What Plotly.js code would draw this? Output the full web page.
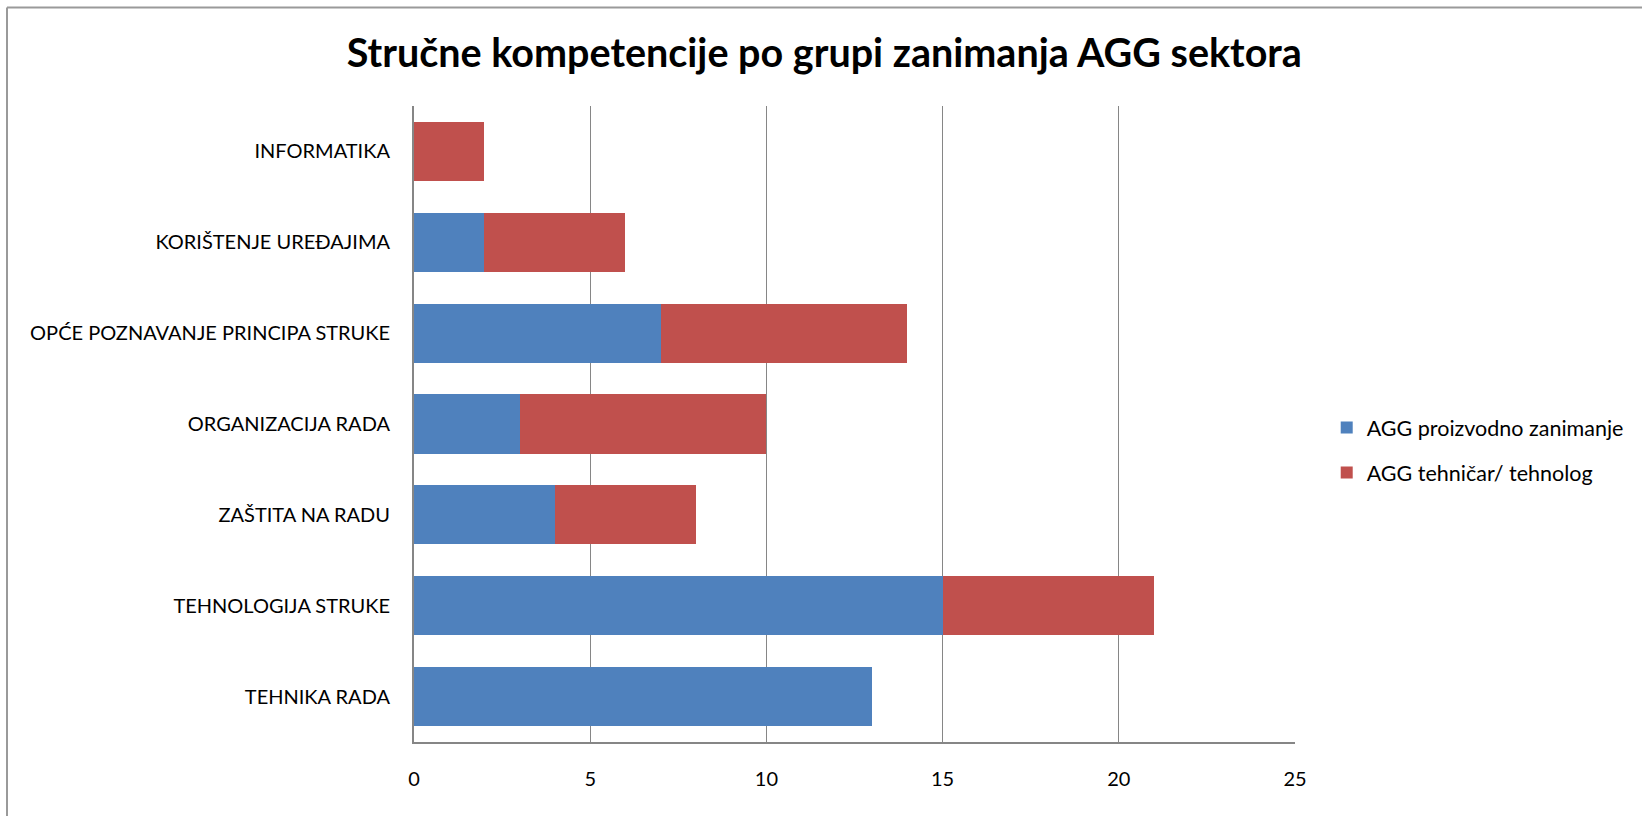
<!DOCTYPE html>
<html>
<head>
<meta charset="utf-8">
<script src="https://cdn.plot.ly/plotly-3.0.1.min.js"></script>
<style>
html,body{margin:0;padding:0;background:#fff;}
#chart{width:1642px;height:816px;}
</style>
</head>
<body>
<div id="chart"></div>
<script>
const categories = [
  "INFORMATIKA",
  "KORIŠTENJE UREĐAJIMA",
  "OPĆE POZNAVANJE PRINCIPA STRUKE",
  "ORGANIZACIJA RADA",
  "ZAŠTITA NA RADU",
  "TEHNOLOGIJA STRUKE",
  "TEHNIKA RADA"
];
const seriesNames = ["AGG proizvodno zanimanje", "AGG tehničar/ tehnolog"];
const proizvodno = [0, 2, 7, 3, 4, 15, 13];
const tehnicar = [2, 4, 7, 7, 4, 6, 0];
const xTicks = [0, 5, 10, 15, 20, 25];
const chartTitle = "Stručne kompetencije po grupi zanimanja AGG sektora";

const FONT = "Lato, 'Open Sans', sans-serif";

const traces = [
  {
    type: "bar", orientation: "h", name: seriesNames[0],
    y: categories, x: proizvodno,
    marker: {color: "#4F81BD", line: {width: 0}},
    legendgroup: "a", hoverinfo: "x+y+name"
  },
  {
    type: "bar", orientation: "h", name: seriesNames[1],
    y: categories, x: tehnicar,
    marker: {color: "#C0504D", line: {width: 0}},
    legendgroup: "b", hoverinfo: "x+y+name"
  }
];

const layout = {
  width: 1642, height: 816,
  paper_bgcolor: "#ffffff", plot_bgcolor: "#ffffff",
  margin: {l: 414, r: 347, t: 106, b: 74},
  barmode: "stack",
  bargap: 0.35,
  font: {family: FONT, color: "#000000"},
  title: {
    text: "<b>" + chartTitle + "</b>",
    font: {family: FONT, size: 39.5, color: "#000000"},
    x: 0.502, xref: "container", xanchor: "center",
    y: 1 - 53/816, yref: "container", yanchor: "middle"
  },
  xaxis: {
    range: [0, 25], tickvals: xTicks, ticktext: xTicks.map(String),
    showgrid: true, gridcolor: "#868686", gridwidth: 1,
    zeroline: false, showline: true, linecolor: "#868686", linewidth: 2,
    ticks: "", ticklabelstandoff: 18,
    tickfont: {family: FONT, size: 20, color: "#000000"},
    fixedrange: true
  },
  yaxis: {
    autorange: "reversed", type: "category",
    showgrid: false, zeroline: false,
    showline: true, linecolor: "#868686", linewidth: 2,
    ticks: "", ticklabelstandoff: 18,
    tickfont: {family: FONT, size: 20, color: "#000000"},
    fixedrange: true
  },
  legend: {
    x: 1.036, xanchor: "left", y: 0.459, yanchor: "middle",
    traceorder: "grouped", tracegroupgap: 14,
    font: {family: FONT, size: 21.5, color: "#000000"},
    bgcolor: "rgba(0,0,0,0)"
  },
  shapes: [
    {type: "line", xref: "paper", yref: "paper",
     x0: (7 - 414)/881, x1: (1642 - 414)/881, y0: (742 - 7.5)/636, y1: (742 - 7.5)/636,
     line: {color: "#9a9a9a", width: 2}},
    {type: "line", xref: "paper", yref: "paper",
     x0: (7 - 414)/881, x1: (7 - 414)/881, y0: (742 - 7.5)/636, y1: (742 - 816)/636,
     line: {color: "#9a9a9a", width: 2}}
  ]
};

Plotly.newPlot("chart", traces, layout, {displayModeBar: false, staticPlot: false});
</script>
</body>
</html>
